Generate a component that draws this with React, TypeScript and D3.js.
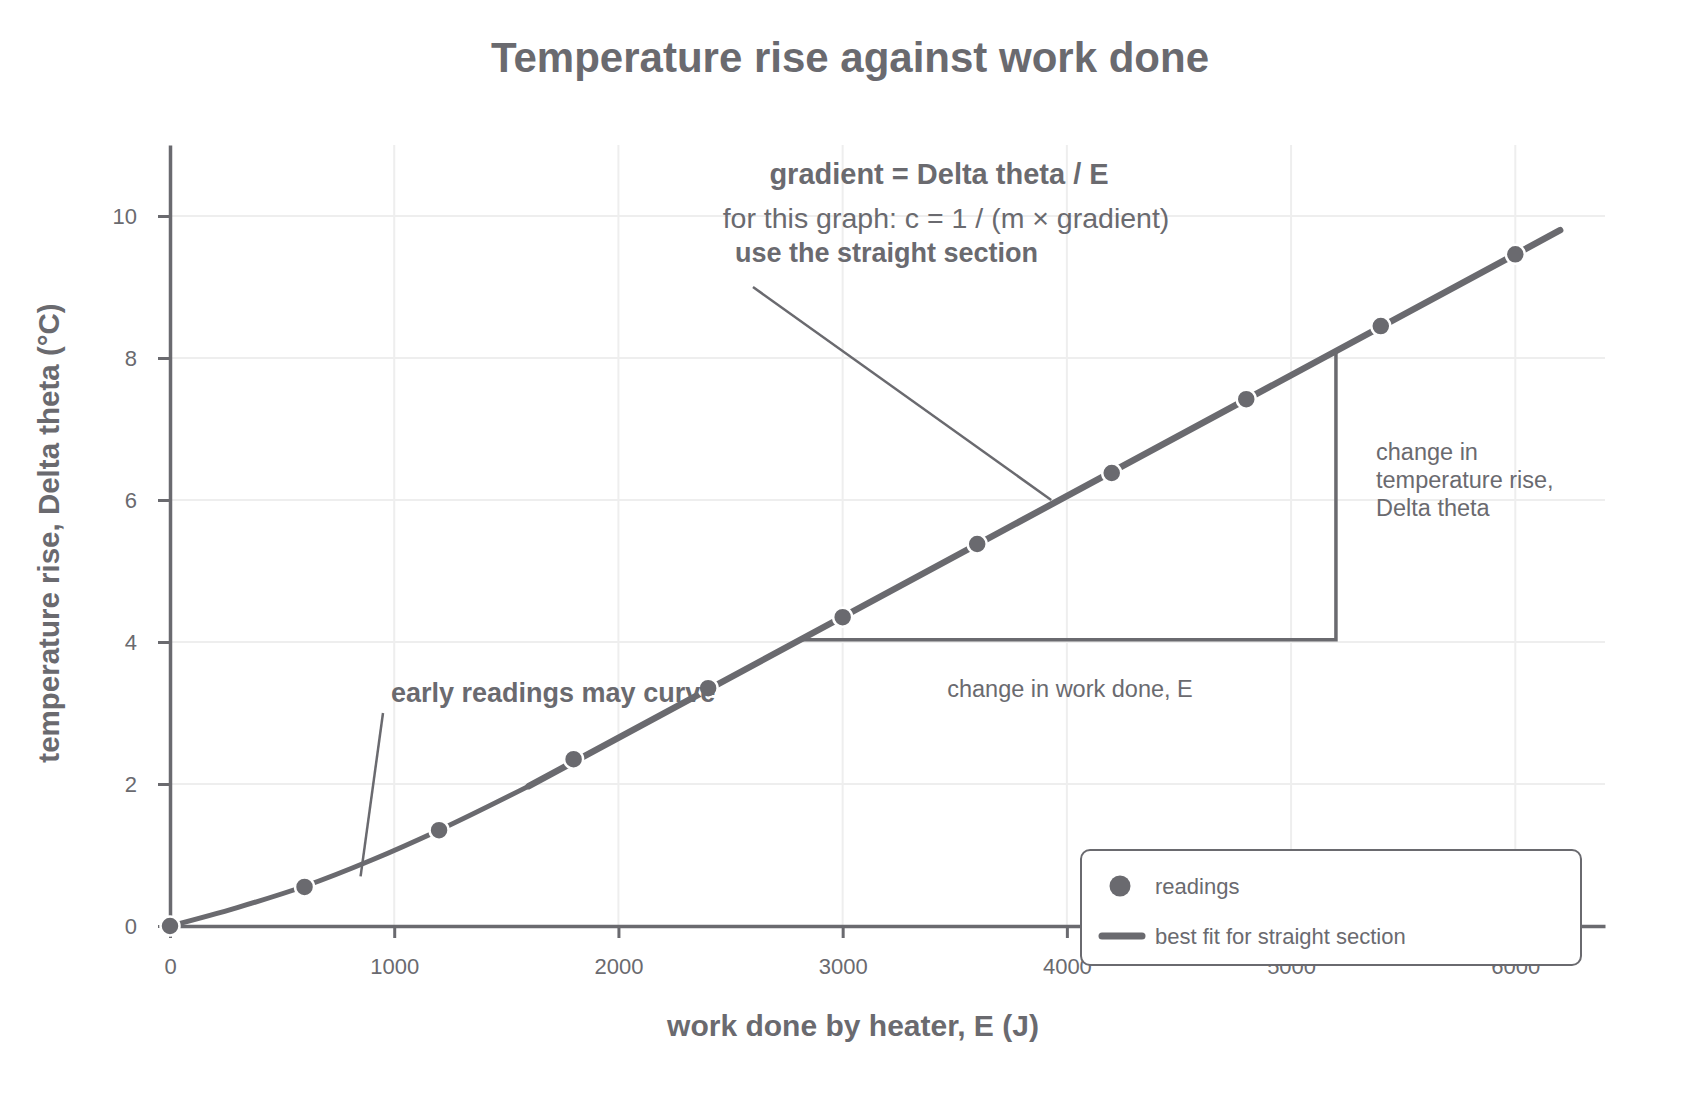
import React, { useEffect, useRef } from "react";
import * as d3 from "d3";

// readings
const workDone = [0, 600, 1200, 1800, 2400, 3000, 3600, 4200, 4800, 5400, 6000];
const tempRise = [0, 0.55, 1.35, 2.35, 3.35, 4.35, 5.38, 6.38, 7.42, 8.45, 9.46];

// early curved part of the trace
const curveWork = [0, 300, 600, 900, 1200, 1600];
const curveRise = [0, 0.26, 0.56, 0.93, 1.35, 1.97];

// best fit for the straight section
const fitWork = [1600, 6200];
const fitRise = [1.97, 9.8];

// gradient triangle
const triWork = [2800, 5200, 5200];
const triRise = [4.03, 4.03, 8.1];

// pointer lines for the notes
const straightPointerWork = [2600, 3930];
const straightPointerRise = [9.0, 6.0];
const curvePointerWork = [950, 850];
const curvePointerRise = [3.0, 0.7];

const xTicks = [0, 1000, 2000, 3000, 4000, 5000, 6000];
const yTicks = [0, 2, 4, 6, 8, 10];

const grey = "#6a6a6f";
const font = "'Liberation Sans', Arial, sans-serif";

const zip = (xs: number[], ys: number[]) => xs.map((x, i) => [x, ys[i]] as [number, number]);

const App = () => {
  const width = 1700,
    height = 1100;
  const plot = { left: 170, right: 1605, top: 145, bottom: 926 };

  const ref = useRef<SVGGElement>(null);

  useEffect(() => {
    const svg = d3.select(ref.current);
    svg.selectAll("*").remove();

    const x = d3.scaleLinear().domain([0, 6400]).range([plot.left, plot.right]);
    const y = d3.scaleLinear().domain([0, 11]).range([plot.bottom, plot.top]);

    // grid
    svg
      .append("g")
      .selectAll("line")
      .data(xTicks.filter((d) => d > 0))
      .enter()
      .append("line")
      .attr("x1", (d) => x(d))
      .attr("x2", (d) => x(d))
      .attr("y1", plot.top)
      .attr("y2", plot.bottom)
      .attr("stroke", "#eeeeee")
      .attr("stroke-width", 2);
    svg
      .append("g")
      .selectAll("line")
      .data(yTicks.filter((d) => d > 0))
      .enter()
      .append("line")
      .attr("x1", plot.left)
      .attr("x2", plot.right)
      .attr("y1", (d) => y(d))
      .attr("y2", (d) => y(d))
      .attr("stroke", "#eeeeee")
      .attr("stroke-width", 2);

    // axes
    const xAxis = svg
      .append("g")
      .attr("transform", `translate(0,${plot.bottom})`)
      .call(
        d3
          .axisBottom(x)
          .tickValues(xTicks)
          .tickFormat(d3.format("d"))
          .tickSize(12)
          .tickSizeOuter(0)
          .tickPadding(20)
      );
    const yAxis = svg
      .append("g")
      .attr("transform", `translate(${plot.left},0)`)
      .call(
        d3
          .axisLeft(y)
          .tickValues(yTicks)
          .tickFormat(d3.format("d"))
          .tickSize(12)
          .tickSizeOuter(0)
          .tickPadding(21)
      );
    [xAxis, yAxis].forEach((a) => {
      a.select(".domain").attr("stroke", grey).attr("stroke-width", 3.5);
      a.selectAll(".tick line").attr("stroke", grey).attr("stroke-width", 3);
      a.selectAll(".tick text")
        .attr("fill", grey)
        .attr("font-size", 22)
        .attr("font-family", font);
    });

    // gradient triangle
    svg
      .append("path")
      .datum(zip(triWork, triRise))
      .attr("fill", "none")
      .attr("stroke", grey)
      .attr("stroke-width", 3.5)
      .attr("d", d3.line().x((d) => x(d[0])).y((d) => y(d[1])));

    // pointer lines
    [zip(straightPointerWork, straightPointerRise), zip(curvePointerWork, curvePointerRise)].forEach((p) => {
      svg
        .append("path")
        .datum(p)
        .attr("fill", "none")
        .attr("stroke", grey)
        .attr("stroke-width", 2.5)
        .attr("d", d3.line().x((d) => x(d[0])).y((d) => y(d[1])));
    });

    // curved early trace
    svg
      .append("path")
      .datum(zip(curveWork, curveRise))
      .attr("fill", "none")
      .attr("stroke", grey)
      .attr("stroke-width", 5)
      .attr("d", d3.line().x((d) => x(d[0])).y((d) => y(d[1])).curve(d3.curveMonotoneX));

    // best fit line
    svg
      .append("path")
      .datum(zip(fitWork, fitRise))
      .attr("fill", "none")
      .attr("stroke", grey)
      .attr("stroke-width", 6.5)
      .attr("stroke-linecap", "round")
      .attr("d", d3.line().x((d) => x(d[0])).y((d) => y(d[1])));

    // readings
    svg
      .append("g")
      .selectAll("circle")
      .data(zip(workDone, tempRise))
      .enter()
      .append("circle")
      .attr("cx", (d) => x(d[0]))
      .attr("cy", (d) => y(d[1]))
      .attr("r", 9.5)
      .attr("fill", grey)
      .attr("stroke", "white")
      .attr("stroke-width", 2.5);

    // notes
    const note = (
      tx: number,
      ty: number,
      text: string,
      size: number,
      weight: string,
      anchor: string
    ) =>
      svg
        .append("text")
        .attr("x", tx)
        .attr("y", ty)
        .attr("fill", grey)
        .attr("font-family", font)
        .attr("font-size", size)
        .attr("font-weight", weight)
        .attr("text-anchor", anchor)
        .text(text);

    note(939, 184, "gradient = Delta theta / E", 29, "bold", "middle");
    note(946, 228, "for this graph: c = 1 / (m × gradient)", 28.5, "normal", "middle");
    note(735, 262, "use the straight section", 27, "bold", "start");
    note(391, 702, "early readings may curve", 27, "bold", "start");
    note(1070, 697, "change in work done, E", 23.5, "normal", "middle");
    note(1376, 460, "change in", 23.5, "normal", "start");
    note(1376, 488, "temperature rise,", 23.5, "normal", "start");
    note(1376, 516, "Delta theta", 23.5, "normal", "start");

    // legend
    const legend = svg.append("g");
    legend
      .append("rect")
      .attr("x", 1081)
      .attr("y", 850)
      .attr("width", 500)
      .attr("height", 115)
      .attr("rx", 9)
      .attr("fill", "white")
      .attr("stroke", grey)
      .attr("stroke-width", 2);
    legend
      .append("circle")
      .attr("cx", 1120)
      .attr("cy", 886)
      .attr("r", 10.5)
      .attr("fill", grey);
    legend
      .append("line")
      .attr("x1", 1102)
      .attr("x2", 1142)
      .attr("y1", 936)
      .attr("y2", 936)
      .attr("stroke", grey)
      .attr("stroke-width", 7)
      .attr("stroke-linecap", "round");
    legend
      .append("text")
      .attr("x", 1155)
      .attr("y", 894)
      .attr("fill", grey)
      .attr("font-family", font)
      .attr("font-size", 22)
      .text("readings");
    legend
      .append("text")
      .attr("x", 1155)
      .attr("y", 944)
      .attr("fill", grey)
      .attr("font-family", font)
      .attr("font-size", 22)
      .text("best fit for straight section");

    // titles
    note(850, 72, "Temperature rise against work done", 42, "bold", "middle");
    note(853, 1036, "work done by heater, E (J)", 30, "bold", "middle");
    svg
      .append("text")
      .attr("transform", `translate(59,533) rotate(-90)`)
      .attr("fill", grey)
      .attr("font-family", font)
      .attr("font-size", 29.5)
      .attr("font-weight", "bold")
      .attr("text-anchor", "middle")
      .text("temperature rise, Delta theta (°C)");
  }, []);

  return (
    <svg
      width={width}
      height={height}
      style={{ position: "absolute", left: 0, top: 0, background: "white" }}
    >
      <g ref={ref} />
    </svg>
  );
};

export default App;
